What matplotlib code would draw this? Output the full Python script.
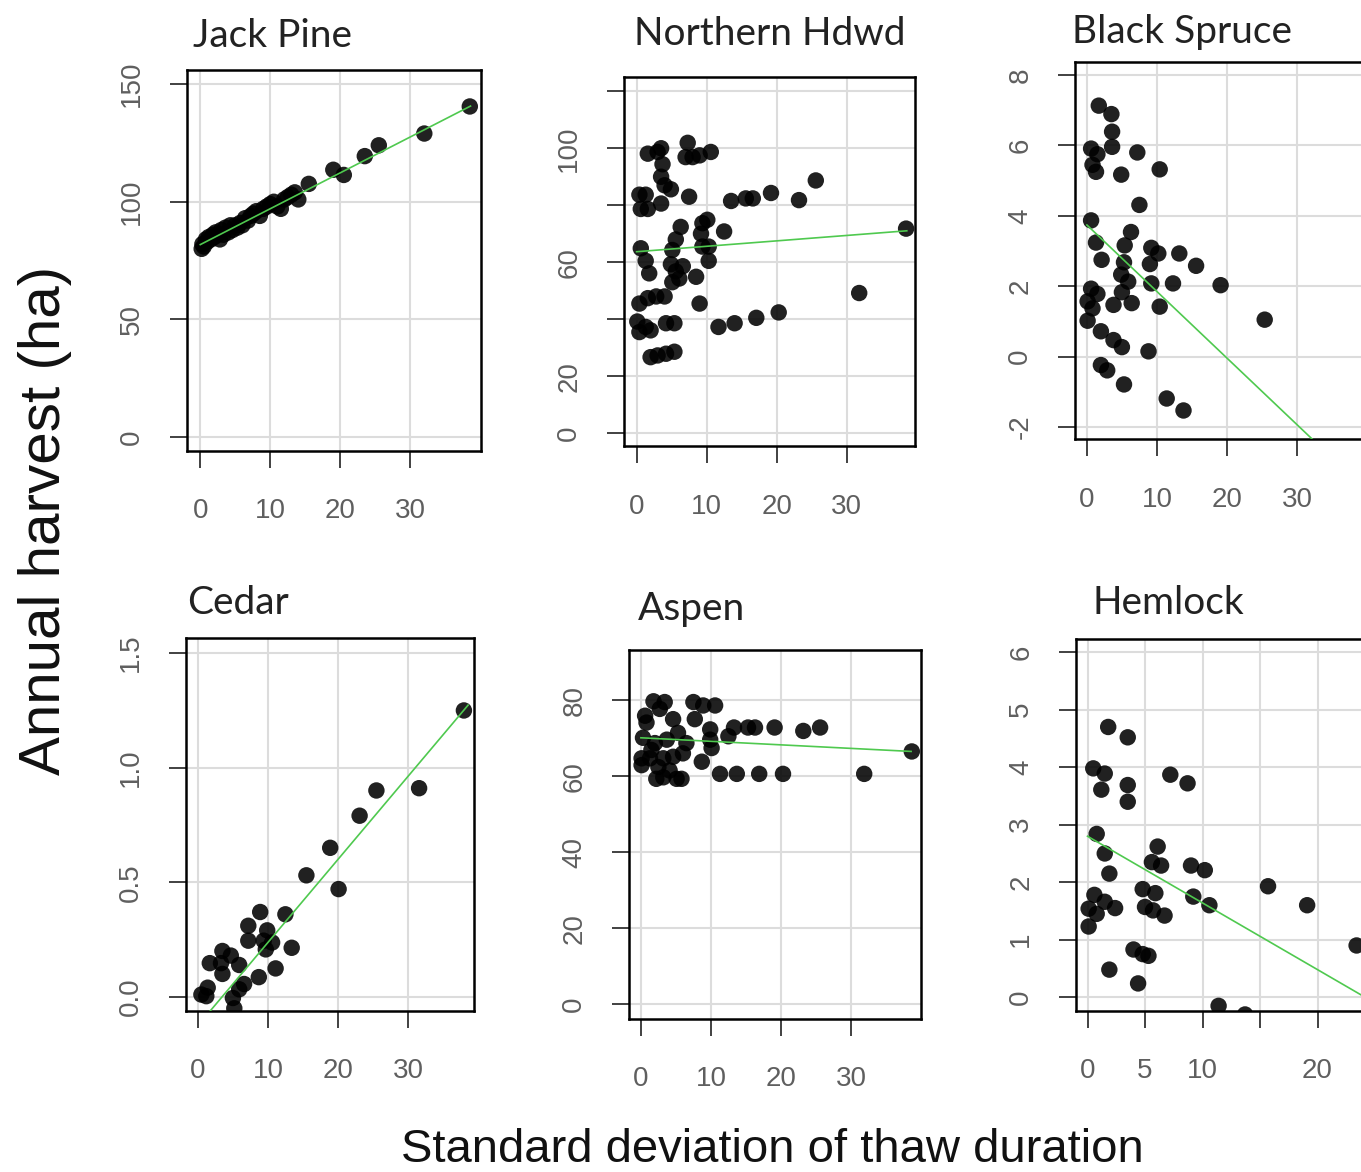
import matplotlib.pyplot as plt
import numpy as np

# -----------------------------------------------------------------------------
# Annual harvest vs. SD of thaw duration, one panel per forest type
# -----------------------------------------------------------------------------
W, H, DPI = 1361, 1172, 100

jack_pine_x = [0.2, 0.3, 0.5, 0.8, 1.0, 1.2, 1.5, 1.8, 2.0, 2.2, 2.5, 2.8, 3.0,
               3.3, 3.6, 4.0, 4.3, 4.6, 5.0, 5.3, 5.7, 6.0, 6.4, 6.8, 7.2, 7.6,
               8.0, 8.5, 9.0, 9.5, 10.0, 10.5, 11.0, 11.5, 12.0, 12.5, 13.0,
               13.5, 14.0, 15.5, 19.0, 20.5, 23.5, 25.5, 32.0, 38.5]
jack_pine_y = [80, 82, 81, 84, 83, 85, 84, 86, 85, 87, 86, 84, 88, 86, 89, 87,
               90, 88, 90, 89, 91, 90, 93, 92, 94, 95, 96, 94, 97, 98, 99, 100,
               98, 97, 101, 102, 103, 104, 101, 107.6, 113.6, 111.4, 119.4,
               124.0, 129.0, 140.5]

hdwd_x = [1.6, 3.0, 3.5, 3.7, 3.5, 4.0, 4.9, 0.4, 1.3, 0.6, 1.6, 3.5, 7.3, 7.0,
          8.0, 9.0, 10.6, 7.5, 13.5, 15.6, 16.6, 19.2, 23.2, 25.6, 38.5, 31.8,
          0.6, 1.3, 1.8, 6.3, 5.6, 5.1, 4.9, 5.6, 6.1, 5.1, 6.6, 9.4, 10.1, 9.2,
          10.3, 9.4, 10.3, 12.5, 8.5, 9.0, 0.4, 1.6, 2.8, 4.0, 0.1, 0.4, 1.3,
          2.0, 4.2, 5.4, 11.7, 14.0, 17.1, 20.3, 2.0, 3.0, 4.2, 5.4]
hdwd_y = [98.1, 98.7, 100.0, 94.4, 90.0, 87.0, 85.6, 83.7, 83.7, 78.7, 78.7,
          80.6, 101.9, 96.9, 96.9, 97.5, 98.7, 83.0, 81.5, 82.4, 82.4, 84.3,
          81.8, 88.7, 71.8, 49.2, 64.9, 60.5, 56.1, 72.4, 68.0, 64.3, 59.3,
          56.8, 54.3, 53.0, 58.6, 73.7, 74.9, 70.0, 65.5, 65.5, 60.5, 70.8,
          54.9, 45.5, 45.5, 47.4, 48.0, 48.0, 39.2, 35.5, 37.3, 36.1, 38.6,
          38.6, 37.3, 38.6, 40.5, 42.4, 26.7, 27.3, 27.9, 28.6]

spruce_x = [1.7, 3.5, 3.6, 3.6, 0.6, 1.5, 0.8, 1.3, 4.9, 7.2, 10.4, 7.5, 0.6,
            1.3, 2.1, 6.3, 5.4, 5.3, 4.9, 5.9, 5.0, 6.4, 3.8, 9.2, 10.2, 9.0,
            9.2, 12.3, 10.4, 13.2, 15.6, 19.1, 25.4, 0.6, 1.5, 0.1, 0.8, 0.1,
            2.0, 3.8, 5.0, 8.8, 2.0, 2.9, 5.3, 11.4, 13.8]
spruce_y = [7.13, 6.89, 6.39, 5.96, 5.91, 5.75, 5.45, 5.25, 5.17, 5.80, 5.32,
            4.31, 3.87, 3.24, 2.75, 3.54, 3.16, 2.68, 2.33, 2.13, 1.83, 1.52,
            1.47, 3.09, 2.93, 2.63, 2.08, 2.08, 1.42, 2.93, 2.58, 2.03, 1.05,
            1.93, 1.78, 1.57, 1.37, 1.02, 0.72, 0.47, 0.27, 0.15, -0.24, -0.39,
            -0.79, -1.19, -1.53]

cedar_x = [38.0, 25.5, 31.6, 23.1, 18.9, 15.5, 20.1, 8.9, 12.5, 7.2, 9.9, 7.2,
           9.4, 10.6, 9.7, 13.4, 3.5, 4.7, 1.7, 3.3, 5.9, 3.5, 11.1, 8.7, 6.6,
           5.9, 1.4, 0.5, 1.2, 5.0, 5.2]
cedar_y = [1.249, 0.90, 0.91, 0.79, 0.65, 0.53, 0.47, 0.37, 0.36, 0.31, 0.29,
           0.245, 0.245, 0.237, 0.207, 0.214, 0.20, 0.18, 0.147, 0.147, 0.139,
           0.10, 0.124, 0.086, 0.056, 0.033, 0.04, 0.01, 0.003, -0.005, -0.05]

aspen_x = [38.7, 31.9, 20.3, 16.9, 13.7, 11.3, 25.6, 23.2, 19.1, 16.3, 15.3,
           13.3, 12.5, 10.6, 8.9, 7.5, 7.7, 9.9, 9.9, 10.1, 8.7, 6.5, 6.0, 5.3,
           4.6, 3.4, 1.8, 2.7, 0.6, 0.8, 0.3, 2.0, 3.7, 0.1, 0.1, 1.3, 2.5, 2.2,
           3.2, 4.1, 5.1, 5.8, 3.2, 4.6, 1.5]
aspen_y = [66.5, 60.6, 60.6, 60.6, 60.6, 60.6, 72.8, 71.9, 72.8, 72.8, 72.8,
           72.8, 70.5, 78.6, 78.6, 79.5, 75.0, 72.3, 69.6, 67.4, 63.8, 68.7,
           66.0, 71.4, 75.0, 79.5, 79.7, 77.7, 75.9, 74.1, 70.1, 68.7, 69.6,
           62.9, 64.7, 64.7, 62.4, 59.3, 59.7, 61.5, 59.3, 59.3, 64.7, 65.1,
           66.9]

hemlock_x = [1.8, 3.5, 0.5, 1.5, 1.2, 3.5, 3.5, 7.2, 8.7, 0.8, 1.5, 1.9, 6.1,
             5.6, 6.4, 9.0, 10.2, 15.7, 19.1, 23.4, 0.6, 1.5, 2.4, 0.1, 0.8,
             0.1, 4.8, 5.9, 5.0, 5.7, 6.7, 9.2, 10.6, 4.0, 4.8, 5.3, 1.9, 4.4,
             11.4, 13.7]
hemlock_y = [4.70, 4.52, 3.98, 3.89, 3.61, 3.69, 3.40, 3.87, 3.72, 2.84, 2.50,
             2.15, 2.62, 2.35, 2.29, 2.29, 2.21, 1.93, 1.60, 0.90, 1.78, 1.66,
             1.55, 1.54, 1.45, 1.23, 1.88, 1.81, 1.57, 1.51, 1.42, 1.75, 1.60,
             0.83, 0.75, 0.72, 0.48, 0.24, -0.15, -0.30]

# fitted linear trend (intercept, slope) for each forest type
fit_intercept = [81.8, 63.7, 3.74, -0.125, 70.1, 2.80]
fit_slope = [1.525, 0.19, -0.189, 0.0362, -0.093, -0.116]
# x span covered by the trend lines
fit_x_range = [0.0, 38.6]

titles = ["Jack Pine", "Northern Hdwd", "Black Spruce", "Cedar", "Aspen", "Hemlock"]

# y ticks and which of them carry a label
yticks = [
    [0, 50, 100, 150],
    [0, 20, 40, 60, 80, 100, 120],
    [-2, 0, 2, 4, 6, 8],
    [0.0, 0.5, 1.0, 1.5],
    [0, 20, 40, 60, 80],
    [0, 1, 2, 3, 4, 5, 6],
]
ytick_labels = [
    ["0", "50", "100", "150"],
    ["0", "20", "", "60", "", "100", ""],
    ["-2", "0", "2", "4", "6", "8"],
    ["0.0", "0.5", "1.0", "1.5"],
    ["0", "20", "40", "60", "80"],
    ["0", "1", "2", "3", "4", "5", "6"],
]
xticks = [[0, 10, 20, 30]] * 5 + [[0, 5, 10, 15, 20]]
xtick_labels = [["0", "10", "20", "30"]] * 5 + [["0", "5", "10", "", "20"]]

series = [
    (jack_pine_x, jack_pine_y),
    (hdwd_x, hdwd_y),
    (spruce_x, spruce_y),
    (cedar_x, cedar_y),
    (aspen_x, aspen_y),
    (hemlock_x, hemlock_y),
]

# panel frames in pixels (left, top) plus axis limits; pixel scale follows limits
layout = [
    dict(left=187, top=70, px_x=7.0, px_y=2.353, xlim=(-1.9, 40.1), ylim=(-6, 156)),
    dict(left=624, top=77, px_x=7.0, px_y=2.85, xlim=(-1.8, 39.8), ylim=(-4.6, 125)),
    dict(left=1075, top=62, px_x=7.0, px_y=35.2, xlim=(-1.7, 40.1), ylim=(-2.35, 8.37)),
    dict(left=186, top=638, px_x=7.0, px_y=229.3, xlim=(-1.7, 39.4), ylim=(-0.062, 1.565)),
    dict(left=629, top=650, px_x=7.0, px_y=3.8, xlim=(-1.7, 40.0), ylim=(-3.8, 93.2)),
    dict(left=1076, top=639, px_x=11.5, px_y=57.5, xlim=(-1.0, 28.0), ylim=(-0.24, 6.23)),
]

title_pos = [(193, 47, "left"), (770, 45, "center"), (1072, 43, "left"),
             (187, 614, "left"), (638, 620, "left"), (1093, 614, "left")]

plt.rcParams["font.family"] = "Liberation Sans"

fig = plt.figure(figsize=(W / DPI, H / DPI), dpi=DPI)
fig.patch.set_facecolor("white")

for i, (x, y) in enumerate(series):
    spec = layout[i]
    w_px = (spec["xlim"][1] - spec["xlim"][0]) * spec["px_x"]
    h_px = (spec["ylim"][1] - spec["ylim"][0]) * spec["px_y"]
    rect = [spec["left"] / W, 1 - (spec["top"] + h_px) / H, w_px / W, h_px / H]
    ax = fig.add_axes(rect)

    ax.set_xlim(*spec["xlim"])
    ax.set_ylim(*spec["ylim"])
    ax.set_xticks(xticks[i], xtick_labels[i])
    ax.set_yticks(yticks[i], ytick_labels[i])
    plt.setp(ax.get_yticklabels(), rotation=90, va="center")

    ax.grid(True, color="#dcdcdc", lw=1.5)
    ax.set_axisbelow(True)

    ax.scatter(x, y, s=140, color="black", alpha=0.87, edgecolors="none", zorder=3)

    xs = np.array(fit_x_range)
    ax.plot(xs, fit_intercept[i] + fit_slope[i] * xs, color="#4fc94f", lw=1.2, zorder=4)

    for sp in ax.spines.values():
        sp.set_linewidth(1.8)
        sp.set_color("black")
    ax.tick_params(axis="both", length=12, width=1.3, color="#333333",
                   labelsize=20, labelcolor="#5f5f5f")
    ax.tick_params(axis="x", pad=22)
    ax.tick_params(axis="y", pad=18)

    tx, ty, ha = title_pos[i]
    fig.text(tx / W, 1 - ty / H, titles[i], family="Lato", fontsize=28,
             color="#222222", ha=ha, va="baseline")

fig.text(45 / W, 1 - 520 / H, "Annual harvest (ha)", rotation=90, fontsize=42,
         ha="center", va="center", color="#111111")
fig.text(772 / W, 1 - 1150 / H, "Standard deviation of thaw duration", fontsize=34,
         ha="center", va="center", color="#111111")

fig.savefig("out.png", dpi=DPI, facecolor="white")
